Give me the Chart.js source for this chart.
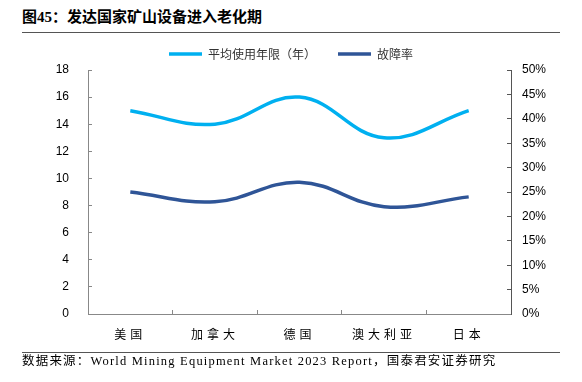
<!DOCTYPE html>
<html><head><meta charset="utf-8">
<script src="https://cdn.jsdelivr.net/npm/chart.js@4"></script>
<style>
body{margin:0;width:582px;height:382px;background:#fff;position:relative;overflow:hidden}
#title{position:absolute;left:22px;top:7px;font:bold 15px "Liberation Serif","Noto Sans CJK SC";color:#000;white-space:nowrap;line-height:20px}
.rule{position:absolute;left:22px;width:538px;height:1px;background:#555}
#src{position:absolute;left:22px;top:353px;font:12.5px "Liberation Serif","Noto Sans CJK SC";letter-spacing:1.2px;color:#000;white-space:nowrap;line-height:16px}
#c{position:absolute;left:0;top:0}
</style></head>
<body>
<div id="title">图45：发达国家矿山设备进入老化期</div>
<div class="rule" style="top:32px"></div>
<canvas id="c" width="582" height="382"></canvas>
<div class="rule" style="top:352px"></div>
<div id="src">数据来源：World Mining Equipment Market 2023 Report，国泰君安证券研究</div>
<script>
const categories = ['美国','加拿大','德国','澳大利亚','日本'];
const avgLife = [15, 14, 16, 13, 15];
const failureRate = [25, 23, 27, 22, 24];
const leftTicks = [0,2,4,6,8,10,12,14,16,18];
const rightTicks = [0,5,10,15,20,25,30,35,40,45,50];

const axisColor = '#888';
const tickFont = {family:'"Liberation Sans", Arial', size:12};

const labelSpacing = {
  id:'labelSpacing',
  afterLayout(chart){
    const s = chart.scales.x;
    if (!s._spaced) {
      const orig = s.drawLabels.bind(s);
      s.drawLabels = function(area){
        const ctx = this.ctx; ctx.save();
        try { ctx.letterSpacing = '4px'; } catch(e) {}
        orig(area); ctx.restore();
      };
      s._spaced = true;
    }
  }
};

new Chart(document.getElementById('c'), {
  type:'line',
  data:{
    labels: categories,
    datasets:[
      {label:'平均使用年限（年）', data:avgLife, yAxisID:'y', borderColor:'#00B0F0', backgroundColor:'#00B0F0', borderWidth:3.5, tension:0.4, pointRadius:0, pointHoverRadius:0},
      {label:'故障率', data:failureRate, yAxisID:'y1', borderColor:'#2F5597', backgroundColor:'#2F5597', borderWidth:3.5, tension:0.4, pointRadius:0, pointHoverRadius:0}
    ]
  },
  plugins:[labelSpacing],
  options:{
    responsive:false, animation:false,
    layout:{padding:{top:26,left:0,right:0,bottom:0}},
    plugins:{
      tooltip:{enabled:false},
      legend:{position:'top', labels:{usePointStyle:true, pointStyle:'line', pointStyleWidth:33, boxHeight:4, padding:22, color:'#333', font:{family:'"Noto Sans CJK SC"', size:12}}}
    },
    scales:{
      x:{offset:true, grid:{display:true, drawOnChartArea:false, offset:true, tickLength:-4, color:axisColor}, border:{color:axisColor},
         ticks:{color:'#000', font:{family:'"Noto Sans CJK SC"', size:12}, padding:17, maxRotation:0},
         afterFit:s=>{s.height=68;}},
      y:{position:'left', min:0, max:18, afterBuildTicks:s=>{s.ticks=leftTicks.map(v=>({value:v}));},
         grid:{display:true, drawOnChartArea:false, tickLength:-4, color:axisColor}, border:{color:axisColor},
         ticks:{color:'#000', font:tickFont, padding:23},
         afterFit:s=>{s.width=88;}},
      y1:{position:'right', min:0, max:50, afterBuildTicks:s=>{s.ticks=rightTicks.map(v=>({value:v}));},
         grid:{display:true, drawOnChartArea:false, tickLength:-4, color:'#555'}, border:{color:'#555'},
         ticks:{color:'#000', font:tickFont, padding:15, callback:v=>v+'%'},
         afterFit:s=>{s.width=71;}}
    }
  }
});
</script>
</body></html>
